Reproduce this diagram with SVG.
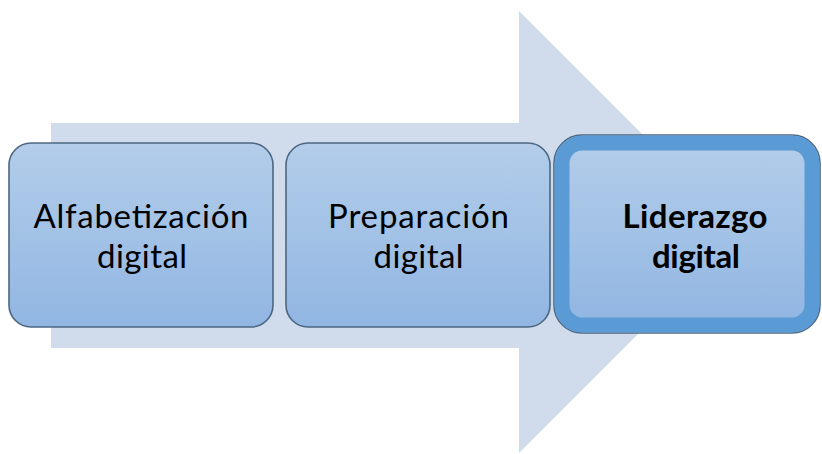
<svg xmlns="http://www.w3.org/2000/svg" width="822" height="454" viewBox="0 0 822 454">
<defs>
<linearGradient id="g" x1="0" y1="0" x2="0" y2="1">
<stop offset="0" stop-color="#b3cdea"/>
<stop offset="1" stop-color="#91b6e2"/>
</linearGradient>
<style>
.box{fill:url(#g);stroke:#4d6782;stroke-width:1.6}
.t{font-family:Lato,"Open Sans",sans-serif;font-size:33px;fill:#000;text-anchor:middle}
.b{font-weight:bold}
</style>
</defs>
<g id="arrow">
<polygon points="51,123 519,123 519,11 740,232 519,453 519,348 51,348" fill="#d0dcec"/>
</g>
<g id="connectors"></g>
<g id="node1">
<rect class="box" x="9" y="143" width="264" height="184" rx="22"/>
<text class="t" x="141" y="228" textLength="215">Alfabetización</text>
<text class="t" x="142" y="268" textLength="90">digital</text>
</g>
<g id="node2">
<rect class="box" x="286" y="143" width="264" height="184" rx="22"/>
<text class="t" x="418.5" y="228" textLength="181">Preparación</text>
<text class="t" x="418.5" y="268" textLength="90">digital</text>
</g>
<g id="node3">
<rect x="554" y="135" width="266" height="198" rx="28" fill="none" stroke="#4d6782" stroke-width="1.6"/>
<rect x="562" y="143" width="250" height="182" rx="20" fill="url(#g)" stroke="#5b9bd5" stroke-width="15"/>
<text class="t b" x="695" y="228" textLength="145">Liderazgo</text>
<text class="t b" x="696" y="268" textLength="88">digital</text>
</g>
</svg>
